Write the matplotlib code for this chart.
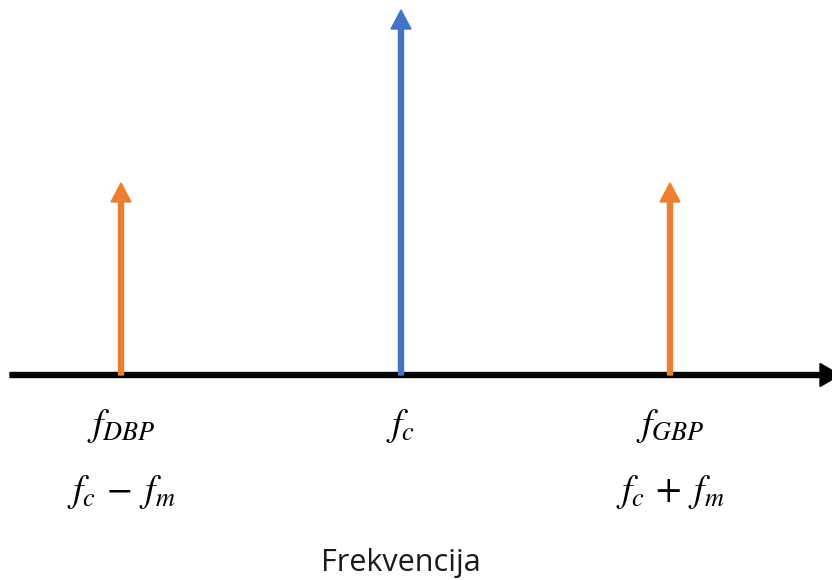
import matplotlib
matplotlib.use("Agg")
import matplotlib.pyplot as plt

# spektar AM signala: pozicije i amplitude komponenti (px skala slike)
freq_pos = [121, 401, 670]
amplitude = [192, 365, 192]
colors = ['#ED7D31', '#4472C4', '#ED7D31']
top_labels = [r'$f_{DBP}$', r'$f_c$', r'$f_{GBP}$']
bottom_labels = [r'$f_c\,-\;f_m$', '', r'$f_c\,+\;f_m$']
x_label = 'Frekvencija'

plt.rcParams['mathtext.fontset'] = 'stix'

fig = plt.figure(figsize=(8.32, 5.8), dpi=100)
ax = fig.add_axes([0, 0, 1, 1])
ax.set_xlim(0, 832)
ax.set_ylim(-205, 375)
ax.axis('off')

# frekvencijska os
ax.arrow(10, 0, 830, 0, width=5, head_width=23, head_length=20,
         length_includes_head=True, color='black', clip_on=False)

for x, h, c in zip(freq_pos, amplitude, colors):
    ax.arrow(x, 0, 0, h, width=5, head_width=20, head_length=19,
             length_includes_head=True, color=c, zorder=3)

for x, t, b in zip(freq_pos, top_labels, bottom_labels):
    ax.text(x, -51, t, ha='center', va='center', fontsize=27)
    if b:
        ax.text(x, -117, b, ha='center', va='center', fontsize=27)

ax.text(401, -188, x_label, ha='center', va='center', fontsize=22,
        family='Open Sans', color='#1a1a1a')

fig.savefig('out.png', dpi=100)
